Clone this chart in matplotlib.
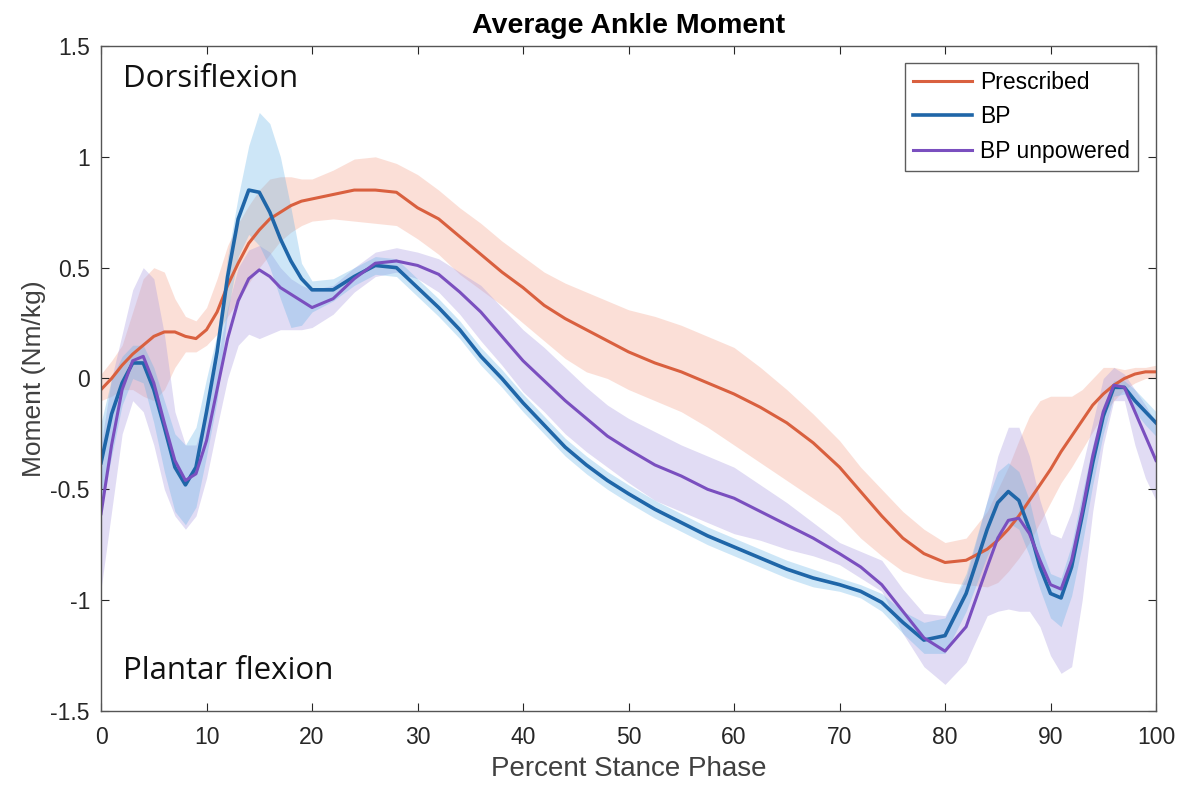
import matplotlib
matplotlib.use("Agg")
import matplotlib.pyplot as plt

plt.rcParams['font.family'] = ['Liberation Sans', 'DejaVu Sans']

# percent stance phase (shared by all three series)
x = [0, 1, 2, 3, 4, 5, 6, 7, 8, 9, 10, 11, 12, 13, 14, 15, 16, 17, 18, 19, 20,
     22, 24, 26, 28, 30, 32, 34, 36, 38, 40, 42, 44, 46, 48, 50,
     52.5, 55, 57.5, 60, 62.5, 65, 67.5, 70,
     72, 74, 76, 78, 80, 82, 84,
     85, 86, 87, 88, 89, 90, 91, 92, 93, 94, 95, 96, 97, 98, 99,
     100]

# Prescribed: mean and band edges (Nm/kg)
presc_mean = [-0.05, 0.0, 0.06, 0.11, 0.15, 0.19, 0.21, 0.21, 0.19, 0.18, 0.22, 0.3, 0.42, 0.52, 0.61, 0.67, 0.72, 0.75, 0.78, 0.8, 0.81,
              0.83, 0.85, 0.85, 0.84, 0.77, 0.72, 0.64, 0.56, 0.48, 0.41, 0.33, 0.27, 0.22, 0.17, 0.12,
              0.07, 0.03, -0.02, -0.07, -0.13, -0.2, -0.29, -0.4,
              -0.51, -0.62, -0.72, -0.79, -0.83, -0.82, -0.77,
              -0.73, -0.68, -0.62, -0.55, -0.48, -0.41, -0.33, -0.26, -0.19, -0.12, -0.07, -0.03, 0.0, 0.02, 0.03,
              0.03]
presc_hi = [0.02, 0.08, 0.15, 0.3, 0.45, 0.5, 0.48, 0.36, 0.28, 0.26, 0.32, 0.45, 0.6, 0.7, 0.78, 0.85, 0.9, 0.91, 0.91, 0.9, 0.9,
            0.94, 0.99, 1.0, 0.97, 0.92, 0.85, 0.77, 0.7, 0.62, 0.55, 0.48, 0.43, 0.39, 0.35, 0.31,
            0.28, 0.24, 0.19, 0.14, 0.05, -0.05, -0.16, -0.28,
            -0.4, -0.5, -0.6, -0.68, -0.74, -0.72, -0.6,
            -0.5, -0.4, -0.28, -0.17, -0.1, -0.08, -0.08, -0.08, -0.05, 0.0, 0.05, 0.05, 0.04, 0.05, 0.05,
            0.06]
presc_lo = [-0.1, -0.08, -0.05, -0.05, -0.08, -0.1, -0.05, 0.05, 0.12, 0.12, 0.15, 0.2, 0.28, 0.35, 0.43, 0.5, 0.56, 0.62, 0.66, 0.69, 0.71,
            0.72, 0.71, 0.7, 0.69, 0.63, 0.56, 0.47, 0.4, 0.33, 0.25, 0.17, 0.09, 0.03, 0.0, -0.05,
            -0.1, -0.15, -0.22, -0.3, -0.38, -0.46, -0.54, -0.62,
            -0.72, -0.8, -0.87, -0.9, -0.92, -0.93, -0.94,
            -0.92, -0.87, -0.81, -0.74, -0.65, -0.56, -0.47, -0.4, -0.32, -0.24, -0.16, -0.1, -0.05, -0.02, 0.0,
            0.0]

# BP
bp_mean = [-0.38, -0.16, -0.02, 0.07, 0.07, -0.05, -0.22, -0.4, -0.48, -0.4, -0.15, 0.12, 0.46, 0.72, 0.85, 0.84, 0.75, 0.63, 0.53, 0.45, 0.4,
           0.4, 0.46, 0.51, 0.5, 0.41, 0.32, 0.22, 0.1, 0.0, -0.11, -0.21, -0.31, -0.39, -0.46, -0.52,
           -0.59, -0.65, -0.71, -0.76, -0.81, -0.86, -0.9, -0.93,
           -0.96, -1.01, -1.1, -1.18, -1.16, -0.97, -0.68,
           -0.56, -0.51, -0.55, -0.68, -0.85, -0.97, -0.99, -0.85, -0.62, -0.38, -0.17, -0.04, -0.04, -0.1, -0.15,
           -0.2]
bp_hi = [-0.2, 0.0, 0.1, 0.15, 0.15, 0.05, -0.1, -0.25, -0.3, -0.22, 0.0, 0.2, 0.55, 0.82, 1.05, 1.2, 1.15, 1.0, 0.77, 0.52, 0.44,
         0.45, 0.5, 0.55, 0.54, 0.45, 0.36, 0.26, 0.14, 0.04, -0.07, -0.17, -0.27, -0.35, -0.42, -0.48,
         -0.55, -0.61, -0.67, -0.72, -0.77, -0.82, -0.86, -0.9,
         -0.93, -0.97, -1.05, -1.1, -1.08, -0.88, -0.55,
         -0.42, -0.38, -0.42, -0.55, -0.75, -0.88, -0.9, -0.75, -0.52, -0.3, -0.12, -0.01, -0.01, -0.05, -0.1,
         -0.15]
bp_lo = [-0.6, -0.35, -0.12, 0.0, -0.02, -0.2, -0.42, -0.6, -0.66, -0.58, -0.35, -0.1, 0.3, 0.55, 0.65, 0.6, 0.5, 0.36, 0.23, 0.24, 0.3,
         0.35, 0.42, 0.47, 0.46, 0.37, 0.28, 0.18, 0.06, -0.04, -0.15, -0.25, -0.35, -0.43, -0.5, -0.56,
         -0.63, -0.69, -0.75, -0.8, -0.85, -0.9, -0.94, -0.96,
         -0.99, -1.05, -1.15, -1.24, -1.24, -1.05, -0.8,
         -0.7, -0.65, -0.68, -0.8, -0.95, -1.08, -1.12, -0.98, -0.75, -0.48, -0.25, -0.08, -0.07, -0.15, -0.21,
         -0.26]

# BP unpowered
bpu_mean = [-0.61, -0.3, -0.05, 0.08, 0.1, -0.02, -0.2, -0.37, -0.46, -0.43, -0.28, -0.05, 0.18, 0.35, 0.45, 0.49, 0.46, 0.41, 0.38, 0.35, 0.32,
            0.36, 0.45, 0.52, 0.53, 0.51, 0.47, 0.39, 0.3, 0.19, 0.08, -0.01, -0.1, -0.18, -0.26, -0.32,
            -0.39, -0.44, -0.5, -0.54, -0.6, -0.66, -0.72, -0.79,
            -0.85, -0.93, -1.05, -1.17, -1.23, -1.12, -0.85,
            -0.72, -0.64, -0.63, -0.7, -0.82, -0.93, -0.95, -0.82, -0.6, -0.35, -0.15, -0.03, -0.04, -0.15, -0.26,
            -0.37]
bpu_hi = [-0.3, 0.0, 0.2, 0.4, 0.5, 0.45, 0.2, -0.15, -0.3, -0.3, -0.15, 0.08, 0.32, 0.5, 0.58, 0.6, 0.57, 0.5, 0.45, 0.42, 0.4,
          0.42, 0.5, 0.57, 0.59, 0.57, 0.54, 0.48, 0.42, 0.32, 0.22, 0.14, 0.05, -0.04, -0.12, -0.18,
          -0.24, -0.3, -0.35, -0.4, -0.48, -0.56, -0.65, -0.74,
          -0.78, -0.82, -0.95, -1.06, -1.07, -0.9, -0.55,
          -0.35, -0.22, -0.22, -0.35, -0.55, -0.7, -0.72, -0.6, -0.4, -0.2, 0.0, 0.05, 0.02, -0.05, -0.12,
          -0.2]
bpu_lo = [-0.95, -0.6, -0.25, -0.1, -0.15, -0.3, -0.5, -0.62, -0.68, -0.62, -0.45, -0.22, 0.0, 0.15, 0.2, 0.18, 0.2, 0.22, 0.22, 0.22, 0.23,
          0.29, 0.39, 0.46, 0.48, 0.45, 0.39, 0.29, 0.17, 0.06, -0.06, -0.15, -0.25, -0.33, -0.4, -0.47,
          -0.55, -0.6, -0.65, -0.7, -0.73, -0.77, -0.8, -0.84,
          -0.9, -0.96, -1.15, -1.3, -1.38, -1.28, -1.07,
          -1.05, -1.04, -1.05, -1.05, -1.12, -1.25, -1.33, -1.3, -1.0, -0.6, -0.3, -0.1, -0.1, -0.3, -0.45,
          -0.55]

fig = plt.figure(figsize=(11.79, 7.9), dpi=100)
ax = fig.add_axes([0.0857, 0.1, 0.8948, 0.8418])

# shaded bands first, then mean lines
ax.fill_between(x, presc_lo, presc_hi, color='#F7B9A8', alpha=0.45, lw=0)
ax.fill_between(x, bpu_lo, bpu_hi, color='#A99BE0', alpha=0.35, lw=0)
ax.fill_between(x, bp_lo, bp_hi, color='#5AAEE6', alpha=0.3, lw=0)

ax.plot(x, presc_mean, color='#D9603F', lw=2.2, label='Prescribed')
ax.plot(x, bp_mean, color='#1F66A8', lw=2.6, label='BP')
ax.plot(x, bpu_mean, color='#7A4FBF', lw=2.2, label='BP unpowered')

ax.set_xlim(0, 100)
ax.set_ylim(-1.5, 1.5)
ax.set_xticks(range(0, 101, 10))
ax.set_yticks([-1.5, -1, -0.5, 0, 0.5, 1, 1.5])
ax.set_yticklabels(['-1.5', '-1', '-0.5', '0', '0.5', '1', '1.5'])
ax.tick_params(direction='in', length=6, labelsize=16.5, colors='#262626',
               top=True, right=True, pad=8)
ax.tick_params(axis='x', pad=11)
for s in ax.spines.values():
    s.set_color('#555555')
    s.set_linewidth(1.0)

ax.set_title('Average Ankle Moment', fontsize=20.5, fontweight='bold', pad=9)
ax.set_xlabel('Percent Stance Phase', fontsize=20, color='#404040', labelpad=5)
ax.set_ylabel('Moment (Nm/kg)', fontsize=19, color='#404040', labelpad=3)

ax.text(2.1, 1.35, 'Dorsiflexion', fontsize=22.5, family='Open Sans',
        va='center', ha='left', color='#111111')
ax.text(2.1, -1.32, 'Plantar flexion', fontsize=22.5, family='Open Sans',
        va='center', ha='left', color='#111111')

leg = ax.legend(loc='upper right', bbox_to_anchor=(0.983, 0.975), fontsize=16.5,
                frameon=True, fancybox=False, edgecolor='#333333',
                handlelength=2.6, handletextpad=0.35, borderpad=0.35,
                labelspacing=0.5, borderaxespad=0.0)
leg.get_frame().set_linewidth(1.0)

fig.savefig('out.png', dpi=100)
